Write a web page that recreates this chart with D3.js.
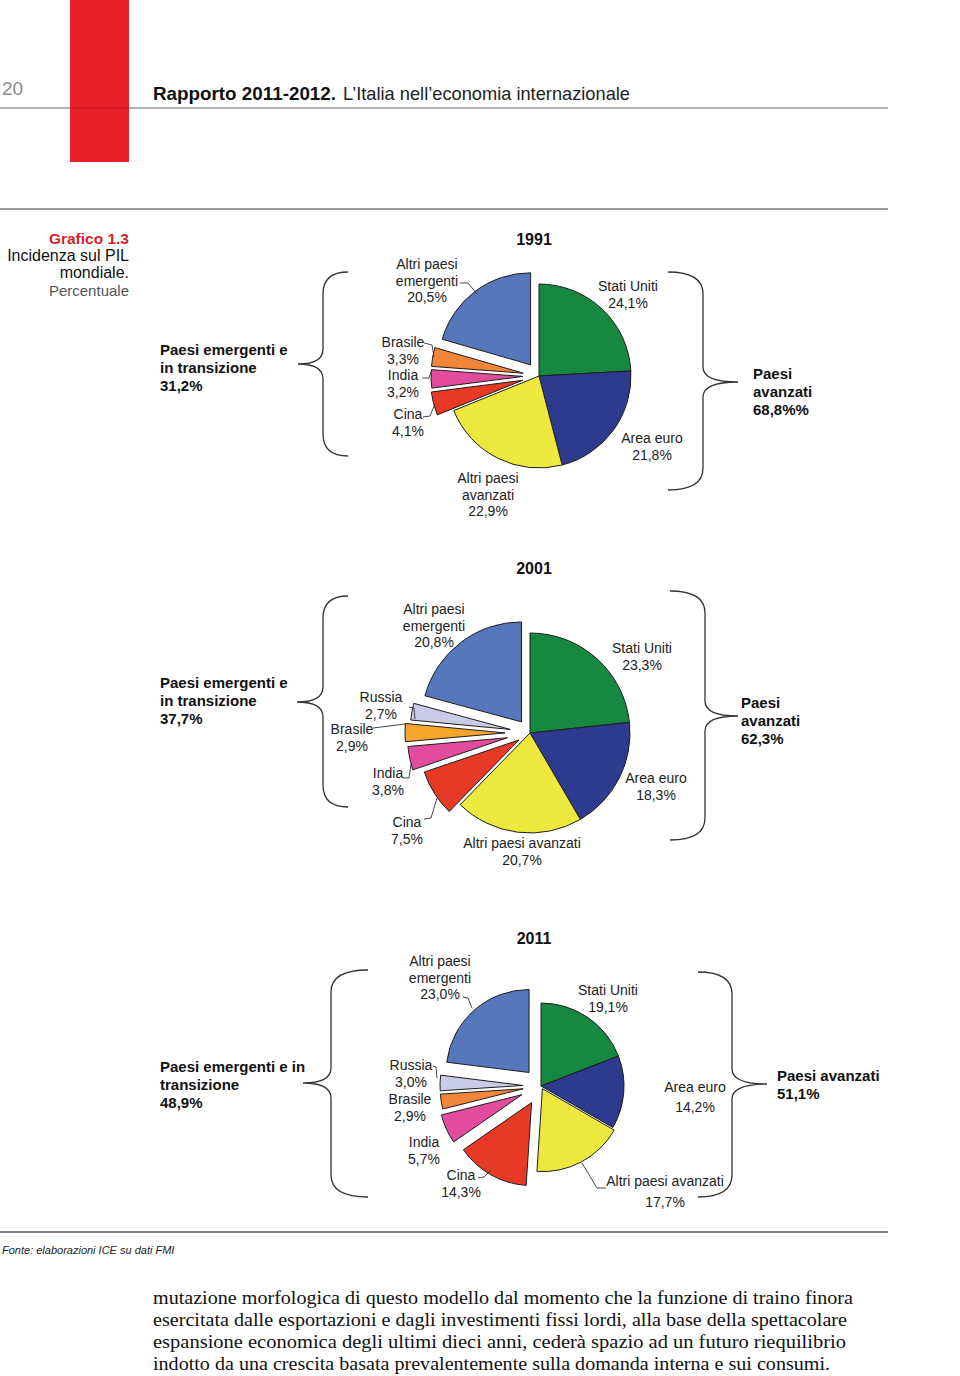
<!DOCTYPE html>
<html><head><meta charset="utf-8">
<script src="https://cdn.jsdelivr.net/npm/d3@7/dist/d3.min.js"></script>
<style>body{margin:0;background:#fff} svg{display:block}</style>
</head><body>
<svg id="c" width="960" height="1376"></svg>
<script>
// ---------------- DATA ----------------
const years = ["1991", "2001", "2011"];
const categories1991 = ["Stati Uniti", "Area euro", "Altri paesi avanzati", "Cina", "India", "Brasile", "Altri paesi emergenti"];
const values1991 = [24.1, 21.8, 22.9, 4.1, 3.2, 3.3, 20.5];
const categories2001 = ["Stati Uniti", "Area euro", "Altri paesi avanzati", "Cina", "India", "Brasile", "Russia", "Altri paesi emergenti"];
const values2001 = [23.3, 18.3, 20.7, 7.5, 3.8, 2.9, 2.7, 20.8];
const categories2011 = ["Stati Uniti", "Area euro", "Altri paesi avanzati", "Cina", "India", "Brasile", "Russia", "Altri paesi emergenti"];
const values2011 = [19.1, 14.2, 17.7, 14.3, 5.7, 2.9, 3.0, 23.0];
const emergingTotals = [31.2, 37.7, 48.9];
const advancedTotals = [68.8, 62.3, 51.1];

const allCategories = ["Stati Uniti", "Area euro", "Altri paesi avanzati", "Cina", "India", "Brasile", "Russia", "Altri paesi emergenti"];
const color = d3.scaleOrdinal().domain(allCategories)
  .range(["#17883f", "#2d3a8d", "#ece83e", "#e63a26", "#e34c9c", "#f1863a", "#c9cbe7", "#5677bb"]);

const fmt = v => d3.format(".1f")(v).replace(".", ",") + "%";

// ---------------- LAYOUT ----------------
const layout = [
  { cx: 539, cy: 376, r: 92, titleY: 245,
    explode: [0, 0, 0, 17, 16, 16, 14],
    colorOverride: {},
    labels: [
      { x: 628, y: 286, lines: ["Stati Uniti"], lh: 17 },
      { x: 652, y: 438, lines: ["Area euro"], lh: 17 },
      { x: 488, y: 478, lines: ["Altri paesi", "avanzati"], lh: 16.6 },
      { x: 408, y: 414, lines: ["Cina"], lh: 17 },
      { x: 403, y: 375, lines: ["India"], lh: 17 },
      { x: 403, y: 342, lines: ["Brasile"], lh: 16.5 },
      { x: 427, y: 264, lines: ["Altri paesi", "emergenti"], lh: 16.6 }
    ],
    leaders: [
      [[460, 283], [468, 283], [477, 294]],
      [[424, 343], [432, 345], [434, 357]],
      [[422, 378], [429, 378], [431, 372]],
      [[423, 417], [430, 416], [435, 404]]
    ],
    braceL: { xe: 348, xv: 323, xt: 298, yt: 272, ym: 364, yb: 456 },
    braceR: { xe: 668, xv: 703, xt: 738, yt: 272, ym: 382, yb: 490 },
    groupL: { x: 160, y: 350, lines: ["Paesi emergenti e", "in transizione"] },
    groupR: { x: 753, y: 374, lines: ["Paesi", "avanzati"], suffix: "%" }
  },
  { cx: 530, cy: 733, r: 100, titleY: 574,
    explode: [0, 0, 0, 13, 23, 25, 20, 14],
    colorOverride: { "Brasile": "#f6a52c" },
    labels: [
      { x: 642, y: 648, lines: ["Stati Uniti"], lh: 17 },
      { x: 656, y: 778, lines: ["Area euro"], lh: 16.5 },
      { x: 522, y: 843, lines: ["Altri paesi avanzati"], lh: 17 },
      { x: 407, y: 822, lines: ["Cina"], lh: 17 },
      { x: 388, y: 773, lines: ["India"], lh: 17 },
      { x: 352, y: 729, lines: ["Brasile"], lh: 16.5 },
      { x: 381, y: 697, lines: ["Russia"], lh: 17 },
      { x: 434, y: 609, lines: ["Altri paesi", "emergenti"], lh: 16.6 }
    ],
    leaders: [
      [[409, 707], [414, 708], [415, 719]],
      [[373, 728], [405, 724]],
      [[403, 778], [409, 778], [411, 764]],
      [[424, 819], [431, 818], [437, 798]]
    ],
    braceL: { xe: 348, xv: 323, xt: 297, yt: 596, ym: 702, yb: 807 },
    braceR: { xe: 670, xv: 705, xt: 738, yt: 591, ym: 716, yb: 840 },
    groupL: { x: 160, y: 683, lines: ["Paesi emergenti e", "in transizione"] },
    groupR: { x: 741, y: 703, lines: ["Paesi", "avanzati"], suffix: "" }
  },
  { cx: 541, cy: 1086, r: 83, titleY: 944,
    explode: [0, 0, 3, 19, 21, 18, 18, 18],
    colorOverride: {},
    labels: [
      { x: 608, y: 990, lines: ["Stati Uniti"], lh: 17 },
      { x: 695, y: 1087, lines: ["Area euro"], lh: 20 },
      { x: 665, y: 1181, lines: ["Altri paesi avanzati"], lh: 21 },
      { x: 461, y: 1175, lines: ["Cina"], lh: 16.5 },
      { x: 424, y: 1142, lines: ["India"], lh: 17 },
      { x: 410, y: 1099, lines: ["Brasile"], lh: 17 },
      { x: 411, y: 1065, lines: ["Russia"], lh: 16.5 },
      { x: 440, y: 961, lines: ["Altri paesi", "emergenti"], lh: 16.6 }
    ],
    leaders: [
      [[463, 997], [468, 998], [472, 1008]],
      [[433, 1066], [436, 1067], [437, 1078]],
      [[478, 1178], [484, 1177], [491, 1170]],
      [[582, 1163], [597, 1188], [606, 1188]]
    ],
    braceL: { xe: 368, xv: 331, xt: 303, yt: 970, ym: 1083, yb: 1197 },
    braceR: { xe: 698, xv: 732, xt: 767, yt: 972, ym: 1084, yb: 1197 },
    groupL: { x: 160, y: 1067, lines: ["Paesi emergenti e in", "transizione"] },
    groupR: { x: 777, y: 1076, lines: ["Paesi avanzati"], suffix: "" }
  }
];

const datasets = [
  { cats: categories1991, vals: values1991 },
  { cats: categories2001, vals: values2001 },
  { cats: categories2011, vals: values2011 }
];

const FONT = "'Liberation Sans', Arial, Helvetica, sans-serif";
const svg = d3.select("#c").style("font-family", FONT);

// ---------------- PAGE HEADER ----------------
svg.append("line").attr("x1", 0).attr("x2", 888).attr("y1", 108).attr("y2", 108)
  .attr("stroke", "#9a9a9a").attr("stroke-width", 1.5);
svg.append("rect").attr("x", 70).attr("y", 0).attr("width", 59).attr("height", 162).attr("fill", "#e72029");
svg.append("line").attr("x1", 70).attr("x2", 129).attr("y1", 108).attr("y2", 108)
  .attr("stroke", "#b0191f").attr("stroke-width", 1.2).attr("opacity", 0.6);
svg.append("text").attr("x", 2).attr("y", 95).attr("font-size", 19).attr("fill", "#8a8a8a").text("20");
svg.append("text").attr("x", 153).attr("y", 100).attr("font-size", 19).attr("fill", "#111")
  .attr("font-weight", "bold").attr("textLength", 183).attr("lengthAdjust", "spacingAndGlyphs")
  .text("Rapporto 2011-2012.");
svg.append("text").attr("x", 343).attr("y", 100).attr("font-size", 19).attr("fill", "#222")
  .attr("textLength", 287).attr("lengthAdjust", "spacingAndGlyphs")
  .text("L’Italia nell’economia internazionale");

svg.append("line").attr("x1", 0).attr("x2", 888).attr("y1", 209).attr("y2", 209)
  .attr("stroke", "#7a7a7a").attr("stroke-width", 1.5);

// side caption
const cap = svg.append("g").attr("text-anchor", "end");
cap.append("text").attr("x", 129).attr("y", 244).attr("font-size", 15.5).attr("fill", "#d91f2a").attr("font-weight", "bold").text("Grafico 1.3");
cap.append("text").attr("x", 129).attr("y", 261).attr("font-size", 16).attr("fill", "#111").text("Incidenza sul PIL");
cap.append("text").attr("x", 129).attr("y", 278).attr("font-size", 16).attr("fill", "#111").text("mondiale.");
cap.append("text").attr("x", 129).attr("y", 296).attr("font-size", 15).attr("fill", "#555").text("Percentuale");

// ---------------- BRACES ----------------
function bracePath(p) {
  const { xe, xv, xt, yt, ym, yb } = p;
  const c = 22, c2 = 15;
  return `M${xe},${yt} Q${xv},${yt} ${xv},${yt + c} L${xv},${ym - c2} Q${xv},${ym} ${xt},${ym}` +
         ` Q${xv},${ym} ${xv},${ym + c2} L${xv},${yb - c} Q${xv},${yb} ${xe},${yb}`;
}

// ---------------- PIES ----------------
const pie = d3.pie().sort(null).value(d => d.v);

layout.forEach((L, k) => {
  const ds = datasets[k];
  const data = ds.cats.map((c, i) => ({ c, v: ds.vals[i] }));
  const arcs = pie(data);
  const arc = d3.arc().innerRadius(0).outerRadius(L.r);
  const g = svg.append("g");

  g.append("text").attr("x", 534).attr("y", L.titleY).attr("text-anchor", "middle")
    .attr("font-size", 16).attr("font-weight", "bold").attr("fill", "#111").text(years[k]);

  g.selectAll("path.slice").data(arcs).join("path").attr("class", "slice")
    .attr("transform", (d, i) => {
      const m = (d.startAngle + d.endAngle) / 2, o = L.explode[i];
      return `translate(${L.cx + Math.sin(m) * o},${L.cy - Math.cos(m) * o})`;
    })
    .attr("d", arc)
    .attr("fill", d => L.colorOverride[d.data.c] || color(d.data.c))
    .attr("stroke", "#1e1e1e").attr("stroke-width", 1).attr("stroke-linejoin", "round");

  // leaders
  g.selectAll("path.leader").data(L.leaders).join("path").attr("class", "leader")
    .attr("d", d => d3.line()(d)).attr("fill", "none").attr("stroke", "#333").attr("stroke-width", 0.9);

  // slice labels
  L.labels.forEach((lab, i) => {
    const lines = lab.lines.concat([fmt(ds.vals[i])]);
    const t = g.append("text").attr("text-anchor", "middle").attr("font-size", 14).attr("fill", "#222");
    lines.forEach((ln, j) => {
      t.append("tspan").attr("x", lab.x).attr("y", lab.y + 5 + j * lab.lh).text(ln);
    });
  });

  // braces
  [L.braceL, L.braceR].forEach(p => {
    g.append("path").attr("d", bracePath(p)).attr("fill", "none").attr("stroke", "#333").attr("stroke-width", 1.3);
  });

  // group labels
  const gl = g.append("text").attr("font-size", 15).attr("font-weight", "bold").attr("fill", "#111");
  L.groupL.lines.concat([fmt(emergingTotals[k])]).forEach((ln, j) => {
    gl.append("tspan").attr("x", L.groupL.x).attr("y", L.groupL.y + 5 + j * 18).text(ln);
  });
  const gr = g.append("text").attr("font-size", 15).attr("font-weight", "bold").attr("fill", "#111");
  L.groupR.lines.concat([fmt(advancedTotals[k]) + L.groupR.suffix]).forEach((ln, j) => {
    gr.append("tspan").attr("x", L.groupR.x).attr("y", L.groupR.y + 5 + j * 18).text(ln);
  });
});

// ---------------- FOOTER ----------------
svg.append("line").attr("x1", 0).attr("x2", 888).attr("y1", 1232).attr("y2", 1232)
  .attr("stroke", "#555").attr("stroke-width", 1.5);
svg.append("text").attr("x", 2).attr("y", 1254).attr("font-size", 11).attr("font-style", "italic")
  .attr("fill", "#222").text("Fonte: elaborazioni ICE su dati FMI");

const bodyLines = [
  "mutazione morfologica di questo modello dal momento che la funzione di traino finora",
  "esercitata dalle esportazioni e dagli investimenti fissi lordi, alla base della spettacolare",
  "espansione economica degli ultimi dieci anni, cederà spazio ad un futuro riequilibrio",
  "indotto da una crescita basata prevalentemente sulla domanda interna e sui consumi."
];
const bodyWidths = [700, 694, 693, 677];
bodyLines.forEach((ln, i) => {
  svg.append("text").attr("x", 153).attr("y", 1304 + i * 22).attr("font-size", 19)
    .attr("font-family", "'Liberation Serif', 'Times New Roman', serif").attr("fill", "#111")
    .attr("textLength", bodyWidths[i]).attr("lengthAdjust", "spacingAndGlyphs").text(ln);
});
</script>
</body></html>
